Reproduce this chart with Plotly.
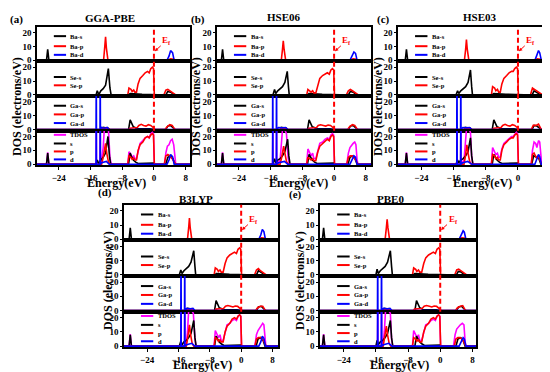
import plotly.graph_objects as go

# ---------------- data ----------------
METHODS = ["GGA-PBE", "HSE06", "HSE03", "B3LYP", "PBE0"]
LETTERS = ["(a)", "(b)", "(c)", "(d)", "(e)"]
ROW_SERIES = [["Ba-s", "Ba-p", "Ba-d"], ["Se-s", "Se-p"],
              ["Ga-s", "Ga-p", "Ga-d"], ["TDOS", "s", "p", "d"]]
X_TICKS = [-24, -16, -8, 0, 8]
Y_TICKS = [0, 10, 20]
X_RANGES = [[-29.5, 9.1], [-29.5, 9.3], [-29.8, 8.7], [-29.9, 9.4], [-29.9, 8.9]]
Y_RANGE = [-0.8, 24.2]

GGA_PBE = {
    "Ba-s": ([-27.1, -26.8, -26.5], [0, 8, 0]),
    "Ba-p": ([-12.7, -12.4, -12.2, -12.0, -11.6, 3.5, 4.2, 5.0, 5.5], [0, 10, 17, 9, 0, 0, 1, 0.8, 0]),
    "Ba-d": ([-2.0, -1.0, 0.0, 0.3, 3.3, 3.8, 4.2, 4.7, 5.1], [0, 0.3, 0.5, 0, 0, 3, 7, 5.5, 0]),
    "Se-s": ([-14.6, -14.3, -13.9, -13.4, -12.8, -12.2, -11.9, -11.5, -11.1, -10.8, -6.5, -6.0, -3.0, 0.0, 0.2, 3.0, 3.5, 4.2, 5.0, 5.3],
             [0, 3, 0.3, 3, 4.5, 7, 12, 19, 5, 0, 0, 1, 0.5, 0.5, 0, 0, 2.5, 2, 0.5, 0]),
    "Se-p": ([-6.6, -6.3, -5.8, -5.5, -5.1, -4.8, -4.4, -4.0, -3.5, -2.8, -2.2, -1.6, -1.2, -0.8, -0.4, -0.1, 0.1, 2.5, 3.0, 3.5, 4.0, 4.6, 5.2, 5.5],
             [0, 5, 4, 2.5, 3.5, 2, 2, 8, 12, 14, 16, 17, 16, 19, 20, 19, 0, 0, 3.5, 4, 3, 2, 0.5, 0]),
    "Ga-s": ([-13.1, -12.8, -11.5, -11.1, -6.4, -6.0, -5.6, -5.2, -4.8, -4.4, -1.0, 0.0, 0.2, 3.0, 3.5, 4.2, 5.0, 5.3],
             [0, 1.5, 1, 0, 0, 7, 4, 2, 1.5, 0.5, 0.5, 0.3, 0, 0, 2.5, 3, 1, 0]),
    "Ga-p": ([-13.1, -12.7, -11.5, -11.1, -6.3, -6.0, -5.0, -4.2, -3.8, -3.2, -2.6, -2.0, -1.4, -0.8, -0.2, 0.3, 2.8, 3.3, 4.0, 4.6, 5.2, 5.5],
             [0, 1, 0.8, 0, 0, 1, 1.5, 1.5, 3, 3.8, 3, 2.5, 3.5, 3, 1.5, 0, 0, 2, 3.5, 3, 0.5, 0]),
    "Ga-d": ([-14.6, -14.57, -14.53, -14.5, -13.6, -13.57, -13.53, -13.5, -13.2, -12.5, -11.8, -11.3, -1.0, 0.0, 0.3],
             [0, 30, 30, 0, 0, 30, 30, 0, 1.5, 1, 1.5, 0, 0, 0.3, 0]),
    "TDOS": ([-27.1, -26.8, -26.5, -14.6, -14.57, -14.53, -14.5, -13.6, -13.57, -13.53, -13.5, -13.2, -12.8, -12.5, -12.1, -11.8, -11.5, -11.1, -10.8,
              -6.6, -6.3, -5.8, -5.5, -5.1, -4.8, -4.4, -4.0, -3.5, -2.8, -2.2, -1.6, -1.2, -0.8, -0.4, -0.1, 0.1,
              2.7, 3.0, 3.4, 3.8, 4.2, 4.6, 5.0, 5.3, 5.5],
             [0, 8.5, 0, 0, 30, 30, 0, 0, 30, 30, 0, 3, 12, 26, 27, 26, 26, 5, 0,
              0, 9, 7, 5, 6, 4, 4, 10, 15, 17, 19, 20, 19, 22, 23, 22, 0,
              0, 8, 13, 14, 17, 18, 14, 3, 0]),
    "s": ([-27.1, -26.8, -26.5, -14.6, -14.3, -13.9, -13.4, -12.8, -12.2, -11.9, -11.6, -11.2, -10.9,
           -6.4, -6.0, -5.6, -5.2, -4.6, -4.0, 0.0, 0.2, 3.0, 3.5, 4.2, 4.8, 5.3],
          [0, 8, 0, 0, 3, 0.3, 3, 5, 8, 14, 20, 5, 0, 0, 8, 5, 3, 1.5, 0.5, 0.8, 0, 0, 5, 6, 4, 0]),
    "p": ([-13.2, -12.8, -12.4, -12.2, -11.9, -11.5, -11.1,
           -6.6, -6.3, -5.8, -5.5, -5.1, -4.8, -4.4, -4.0, -3.5, -2.8, -2.2, -1.6, -1.2, -0.8, -0.4, -0.1, 0.1,
           2.6, 3.0, 3.5, 4.0, 4.6, 5.2, 5.5],
          [0, 5, 12, 15, 8, 2, 0, 0, 6, 5, 3.5, 4.5, 3, 3, 10, 14, 16, 19, 20, 19, 21, 22, 21, 0, 0, 6, 7, 6, 4, 1, 0]),
    "d": ([-14.6, -14.57, -14.53, -14.5, -13.6, -13.57, -13.53, -13.5, -13.2, -12.0, -11.3, 3.3, 3.8, 4.2, 4.7, 5.1],
          [0, 30, 30, 0, 0, 30, 30, 0, 1, 2, 0, 0, 3, 7, 5.5, 0]),
}

HSE06 = {
    "Ba-s": ([-28.4, -28.1, -27.8], [0, 8, 0]),
    "Ba-p": ([-13.3, -13.0, -12.8, -12.6, -12.2, 4.0, 4.8, 5.6, 6.0], [0, 8, 14, 8, 0, 0, 1, 0.8, 0]),
    "Ba-d": ([-2.0, -1.0, 0.0, 0.3, 4.0, 4.5, 5.0, 5.4, 5.8], [0, 0.3, 0.5, 0, 0, 3, 6, 5, 0]),
    "Se-s": ([-15.4, -15.0, -14.7, -14.2, -13.6, -13.0, -12.4, -12.1, -11.8, -11.5, -11.3, -6.8, -6.3, -3.0, 0.0, 0.2, 3.6, 4.1, 4.8, 5.5, 5.8],
             [0, 4, 1, 3, 4.5, 6, 9, 14, 17, 6, 0, 0, 1, 0.5, 0.5, 0, 0, 2.5, 2, 0.5, 0]),
    "Se-p": ([-6.9, -6.6, -6.1, -5.8, -5.4, -5.1, -4.6, -4.1, -3.6, -2.9, -2.3, -1.7, -1.2, -0.8, -0.4, -0.1, 0.1, 3.1, 3.6, 4.1, 4.6, 5.2, 5.8, 6.1],
             [0, 4, 3, 2, 3, 1.5, 1.5, 7, 12, 14, 15, 16, 15, 18, 19, 18, 0, 0, 3, 4, 3, 2, 0.5, 0]),
    "Ga-s": ([-13.6, -13.3, -12.0, -11.6, -6.7, -6.3, -5.9, -5.5, -5.0, -4.6, -1.0, 0.0, 0.2, 3.6, 4.1, 4.8, 5.6, 5.9],
             [0, 1.5, 1, 0, 0, 7, 4, 2, 1.5, 0.5, 0.5, 0.3, 0, 0, 2.5, 3, 1, 0]),
    "Ga-p": ([-13.6, -13.2, -12.0, -11.6, -6.6, -6.3, -5.2, -4.4, -4.0, -3.4, -2.7, -2.1, -1.5, -0.9, -0.3, 0.3, 3.4, 3.9, 4.6, 5.2, 5.8, 6.1],
             [0, 1, 0.8, 0, 0, 1, 1.5, 1.5, 3, 3.5, 3, 2.5, 3.2, 3, 1.5, 0, 0, 2, 3.5, 3, 0.5, 0]),
    "Ga-d": ([-15.5, -15.47, -15.43, -15.4, -14.55, -14.52, -14.48, -14.45, -14.0, -13.0, -12.2, -11.7, -1.0, 0.0, 0.3],
             [0, 30, 30, 0, 0, 30, 30, 0, 1.5, 1.2, 1.5, 0, 0, 0.3, 0]),
    "TDOS": ([-28.4, -28.1, -27.8, -15.5, -15.47, -15.43, -15.4, -14.55, -14.52, -14.48, -14.45, -13.6, -13.3, -13.0, -12.6, -12.3, -12.0, -11.6, -11.3,
              -6.9, -6.6, -6.1, -5.8, -5.4, -5.1, -4.6, -4.1, -3.6, -2.9, -2.3, -1.7, -1.2, -0.8, -0.4, -0.1, 0.1,
              3.2, 3.6, 4.0, 4.4, 4.8, 5.2, 5.5, 5.8, 6.0],
             [0, 8.5, 0, 0, 30, 30, 0, 0, 30, 30, 0, 3, 12, 25, 26, 24, 22, 5, 0,
              0, 11, 8, 6, 8, 4, 4, 10, 15, 16, 18, 19, 18, 21, 22, 21, 0,
              0, 8, 12, 14, 15, 16, 14, 3, 0]),
    "s": ([-28.4, -28.1, -27.8, -15.4, -15.0, -14.7, -14.2, -13.6, -13.0, -12.4, -12.0, -11.7, -11.4, -11.1,
           -6.7, -6.3, -5.9, -5.5, -4.9, -4.3, 0.0, 0.2, 3.5, 4.0, 4.7, 5.3, 5.8],
          [0, 8, 0, 0, 4, 1, 3, 4, 6, 9, 14, 18, 6, 0, 0, 7, 5, 3, 1.5, 0.5, 0.8, 0, 0, 5, 6, 4, 0]),
    "p": ([-13.6, -13.2, -12.9, -12.7, -12.4, -12.0, -11.6,
           -6.9, -6.6, -6.1, -5.8, -5.4, -5.1, -4.6, -4.1, -3.6, -2.9, -2.3, -1.7, -1.2, -0.8, -0.4, -0.1, 0.1,
           3.2, 3.6, 4.1, 4.6, 5.2, 5.8, 6.1],
          [0, 5, 10, 13, 8, 2, 0, 0, 5, 4, 3, 4, 2.5, 2.5, 9, 13, 15, 17, 18, 17, 20, 21, 20, 0, 0, 5, 6, 6, 4, 1, 0]),
    "d": ([-15.5, -15.47, -15.43, -15.4, -14.55, -14.52, -14.48, -14.45, -14.0, -12.5, -11.7, 4.0, 4.5, 5.0, 5.4, 5.8],
          [0, 30, 30, 0, 0, 30, 30, 0, 1, 2, 0, 0, 3, 6, 5, 0]),
}

HSE03 = {
    "Ba-s": ([-28.0, -27.7, -27.4], [0, 8, 0]),
    "Ba-p": ([-13.3, -13.0, -12.8, -12.6, -12.2, 4.0, 4.8, 5.6, 6.0], [0, 8, 15, 8, 0, 0, 1, 0.8, 0]),
    "Ba-d": ([-2.0, -1.0, 0.0, 0.3, 4.2, 4.6, 5.1, 5.4, 5.8], [0, 0.3, 0.5, 0, 0, 3, 7, 5.5, 0]),
    "Se-s": ([-15.4, -15.0, -14.7, -14.2, -13.6, -13.0, -12.4, -12.1, -11.8, -11.5, -11.3, -6.5, -6.0, -3.0, 0.0, 0.2, 3.5, 4.0, 4.7, 5.4, 5.7],
             [0, 3, 1, 3, 4.5, 6, 9, 14, 18, 6, 0, 0, 1, 0.5, 0.5, 0, 0, 3, 2, 0.5, 0]),
    "Se-p": ([-6.6, -6.3, -5.8, -5.5, -5.1, -4.8, -4.4, -4.0, -3.5, -2.8, -2.2, -1.6, -1.2, -0.8, -0.4, -0.1, 0.1, 3.1, 3.6, 4.1, 4.6, 5.2, 5.8, 6.1],
             [0, 6, 5, 3, 4, 2, 2, 8, 12, 14, 16, 17, 17, 19, 20, 19, 0, 0, 5, 4, 3, 2, 0.5, 0]),
    "Ga-s": ([-13.4, -13.1, -11.8, -11.4, -6.4, -6.0, -5.6, -5.2, -4.8, -4.4, -1.0, 0.0, 0.2, 3.5, 4.0, 4.7, 5.5, 5.8],
             [0, 1.5, 1, 0, 0, 7, 4, 2, 1.5, 0.5, 0.5, 0.3, 0, 0, 3, 2.5, 1, 0]),
    "Ga-p": ([-13.4, -13.0, -11.8, -11.4, -6.3, -6.0, -5.0, -4.2, -3.8, -3.2, -2.6, -2.0, -1.4, -0.8, -0.2, 0.3, 3.3, 3.8, 4.5, 5.1, 5.7, 6.0],
             [0, 1, 0.8, 0, 0, 1, 1.5, 1.5, 3, 3.8, 3, 2.5, 3.5, 3, 1.5, 0, 0, 3, 3, 4, 0.5, 0]),
    "Ga-d": ([-15.2, -15.17, -15.13, -15.1, -14.25, -14.22, -14.18, -14.15, -13.7, -12.8, -12.0, -11.5, -1.0, 0.0, 0.3],
             [0, 30, 30, 0, 0, 30, 30, 0, 1.5, 1.2, 1.5, 0, 0, 0.3, 0]),
    "TDOS": ([-28.0, -27.7, -27.4, -15.2, -15.17, -15.13, -15.1, -14.25, -14.22, -14.18, -14.15, -13.4, -13.1, -12.8, -12.4, -12.1, -11.8, -11.5, -11.2,
              -6.6, -6.3, -5.9, -5.5, -5.1, -4.8, -4.4, -4.0, -3.5, -2.8, -2.2, -1.6, -1.2, -0.8, -0.4, -0.1, 0.1,
              3.3, 3.6, 4.0, 4.4, 4.7, 5.1, 5.4, 5.7, 5.9],
             [0, 8.5, 0, 0, 30, 30, 0, 0, 30, 30, 0, 3, 12, 25, 26, 25, 23, 5, 0,
              0, 12, 9, 7, 8, 5, 5, 11, 15, 17, 19, 20, 20, 22, 23, 22, 0,
              0, 10, 16, 15, 12, 17, 16, 3, 0]),
    "s": ([-28.0, -27.7, -27.4, -15.4, -15.0, -14.7, -14.2, -13.6, -13.0, -12.4, -12.1, -11.8, -11.5, -11.2,
           -6.4, -6.0, -5.6, -5.2, -4.6, -4.0, 0.0, 0.2, 3.4, 3.9, 4.6, 5.2, 5.7],
          [0, 8, 0, 0, 3, 1, 3, 4, 6, 9, 14, 19, 6, 0, 0, 7, 5, 3, 1.5, 0.5, 0.8, 0, 0, 6, 5, 4, 0]),
    "p": ([-13.4, -13.1, -12.9, -12.7, -12.4, -12.0, -11.6,
           -6.6, -6.3, -5.8, -5.5, -5.1, -4.8, -4.4, -4.0, -3.5, -2.8, -2.2, -1.6, -1.2, -0.8, -0.4, -0.1, 0.1,
           3.3, 3.6, 4.0, 4.5, 5.0, 5.5, 5.9],
          [0, 5, 10, 14, 8, 2, 0, 0, 7, 6, 4, 5, 3, 3, 10, 14, 16, 18, 19, 19, 21, 22, 21, 0, 0, 7, 8, 5, 6, 2, 0]),
    "d": ([-15.2, -15.17, -15.13, -15.1, -14.25, -14.22, -14.18, -14.15, -13.7, -12.5, -11.5, 4.2, 4.6, 5.1, 5.4, 5.8],
          [0, 30, 30, 0, 0, 30, 30, 0, 1, 2, 0, 0, 3, 7, 5.5, 0]),
}

B3LYP = {
    "Ba-s": ([-28.6, -28.3, -28.0], [0, 8, 0]),
    "Ba-p": ([-13.7, -13.4, -13.2, -13.0, -12.6, 4.4, 5.2, 6.0, 6.4], [0, 8, 15, 8, 0, 0, 1, 0.8, 0]),
    "Ba-d": ([-2.0, -1.0, 0.0, 0.3, 4.5, 5.0, 5.4, 5.8, 6.2], [0, 0.3, 0.5, 0, 0, 3, 7, 5.5, 0]),
    "Se-s": ([-15.8, -15.4, -15.1, -14.6, -14.0, -13.4, -12.8, -12.5, -12.1, -11.8, -11.6, -6.8, -6.3, -3.0, 0.0, 0.2, 3.9, 4.4, 5.1, 5.8, 6.1],
             [0, 3.5, 1, 3, 4.5, 6, 9, 13, 17, 6, 0, 0, 1, 0.5, 0.5, 0, 0, 3, 2, 0.5, 0]),
    "Se-p": ([-6.9, -6.6, -6.1, -5.8, -5.4, -5.1, -4.6, -4.1, -3.6, -2.9, -2.3, -1.7, -1.2, -0.8, -0.4, -0.1, 0.1, 3.4, 3.9, 4.4, 4.9, 5.5, 6.1, 6.4],
             [0, 5, 4, 2.5, 3.5, 2, 2, 8, 12, 14, 15, 16, 15, 18, 19, 18, 0, 0, 3.5, 4.5, 3, 2, 0.5, 0]),
    "Ga-s": ([-14.0, -13.7, -12.4, -12.0, -6.8, -6.4, -6.0, -5.6, -5.1, -4.7, -1.0, 0.0, 0.2, 3.9, 4.4, 5.1, 5.9, 6.2],
             [0, 1.5, 1, 0, 0, 7, 4, 2, 1.5, 0.5, 0.5, 0.3, 0, 0, 2.5, 3, 1, 0]),
    "Ga-p": ([-14.0, -13.6, -12.4, -12.0, -6.7, -6.4, -5.3, -4.5, -4.0, -3.4, -2.7, -2.1, -1.5, -0.9, -0.3, 0.3, 3.7, 4.2, 4.9, 5.5, 6.1, 6.4],
             [0, 1, 0.8, 0, 0, 1, 1.5, 1.5, 3, 3.5, 3, 2.5, 3.2, 3, 1.5, 0, 0, 2, 3, 3, 0.5, 0]),
    "Ga-d": ([-15.4, -15.37, -15.33, -15.3, -14.45, -14.42, -14.38, -14.35, -13.9, -13.0, -12.3, -11.8, -1.0, 0.0, 0.3],
             [0, 30, 30, 0, 0, 30, 30, 0, 1.5, 1.2, 1.5, 0, 0, 0.3, 0]),
    "TDOS": ([-28.6, -28.3, -28.0, -15.4, -15.37, -15.33, -15.3, -14.45, -14.42, -14.38, -14.35, -14.0, -13.7, -13.4, -13.0, -12.6, -12.2, -11.8, -11.5,
              -6.9, -6.6, -6.1, -5.8, -5.4, -5.1, -4.6, -4.1, -3.6, -2.9, -2.3, -1.7, -1.2, -0.8, -0.4, -0.1, 0.1,
              3.5, 3.9, 4.3, 4.7, 5.1, 5.5, 5.8, 6.1, 6.3],
             [0, 8.5, 0, 0, 30, 30, 0, 0, 30, 30, 0, 3, 10, 25, 26, 25, 23, 5, 0,
              0, 11, 8, 6, 8, 4, 4, 10, 15, 16, 18, 19, 18, 21, 22, 21, 0,
              0, 8, 11, 13, 14, 16, 15, 3, 0]),
    "s": ([-28.6, -28.3, -28.0, -15.8, -15.4, -15.1, -14.6, -14.0, -13.4, -12.8, -12.5, -12.1, -11.8, -11.5,
           -6.8, -6.4, -6.0, -5.6, -5.0, -4.4, 0.0, 0.2, 3.8, 4.3, 5.0, 5.6, 6.1],
          [0, 8, 0, 0, 3.5, 1, 3, 4, 6, 9, 13, 18, 6, 0, 0, 7, 5, 3, 1.5, 0.5, 0.8, 0, 0, 5, 6, 4, 0]),
    "p": ([-14.0, -13.7, -13.4, -13.2, -12.9, -12.5, -12.1,
           -6.9, -6.6, -6.1, -5.8, -5.4, -5.1, -4.6, -4.1, -3.6, -2.9, -2.3, -1.7, -1.2, -0.8, -0.4, -0.1, 0.1,
           3.5, 3.9, 4.4, 4.9, 5.5, 6.1, 6.4],
          [0, 5, 10, 15, 8, 2, 0, 0, 6, 5, 3.5, 4.5, 3, 3, 10, 14, 16, 19, 20, 19, 21, 22, 21, 0, 0, 5, 6, 6, 5, 1, 0]),
    "d": ([-15.4, -15.37, -15.33, -15.3, -14.45, -14.42, -14.38, -14.35, -13.9, -12.6, -11.8, 4.5, 5.0, 5.4, 5.8, 6.2],
          [0, 30, 30, 0, 0, 30, 30, 0, 1, 2, 0, 0, 3, 7, 5.5, 0]),
}

PBE0 = {
    "Ba-s": ([-29.3, -29.0, -28.7], [0, 8, 0]),
    "Ba-p": ([-13.7, -13.4, -13.2, -13.0, -12.6, 4.6, 5.4, 6.2, 6.6], [0, 8, 14, 8, 0, 0, 1, 0.8, 0]),
    "Ba-d": ([-2.0, -1.0, 0.0, 0.3, 4.7, 5.2, 5.7, 6.0, 6.4], [0, 0.3, 0.5, 0, 0, 3, 6, 5, 0]),
    "Se-s": ([-16.0, -15.7, -15.4, -14.9, -14.3, -13.7, -13.1, -12.8, -12.4, -12.1, -11.9, -6.8, -6.3, -3.0, 0.0, 0.2, 4.0, 4.5, 5.2, 5.9, 6.2],
             [0, 4, 1, 3, 4.5, 6, 9, 13, 17, 6, 0, 0, 1, 0.5, 0.5, 0, 0, 2.5, 2, 0.5, 0]),
    "Se-p": ([-6.9, -6.6, -6.1, -5.8, -5.4, -5.1, -4.6, -4.1, -3.6, -2.9, -2.3, -1.7, -1.2, -0.8, -0.4, -0.1, 0.1, 3.6, 4.1, 4.6, 5.1, 5.7, 6.3, 6.6],
             [0, 5, 4, 2.5, 3.5, 2, 2, 8, 12, 14, 15, 16, 15, 18, 19, 18, 0, 0, 3.5, 4, 3, 2, 0.5, 0]),
    "Ga-s": ([-14.2, -13.9, -12.6, -12.2, -6.3, -5.9, -5.5, -5.1, -4.7, -4.3, -1.0, 0.0, 0.2, 4.0, 4.6, 5.3, 6.0, 6.3],
             [0, 1.5, 1, 0, 0, 7, 4, 2, 1.5, 0.5, 0.5, 0.3, 0, 0, 2.5, 3, 1, 0]),
    "Ga-p": ([-14.2, -13.8, -12.6, -12.2, -6.7, -6.4, -5.3, -4.5, -4.0, -3.4, -2.7, -2.1, -1.5, -0.9, -0.3, 0.3, 3.8, 4.3, 5.0, 5.6, 6.2, 6.5],
             [0, 1, 0.8, 0, 0, 1, 1.5, 1.5, 3, 3.5, 3, 2.5, 3.2, 3, 1.5, 0, 0, 2, 3, 3.5, 0.5, 0]),
    "Ga-d": ([-15.6, -15.57, -15.53, -15.5, -14.65, -14.62, -14.58, -14.55, -14.1, -13.2, -12.5, -12.0, -1.0, 0.0, 0.3],
             [0, 30, 30, 0, 0, 30, 30, 0, 1.5, 1.2, 1.5, 0, 0, 0.3, 0]),
    "TDOS": ([-29.3, -29.0, -28.7, -15.6, -15.57, -15.53, -15.5, -14.65, -14.62, -14.58, -14.55, -14.2, -13.9, -13.6, -13.2, -12.8, -12.4, -12.1, -11.8,
              -6.9, -6.6, -6.1, -5.8, -5.4, -5.1, -4.6, -4.1, -3.6, -2.9, -2.3, -1.7, -1.2, -0.8, -0.4, -0.1, 0.1,
              3.3, 3.7, 4.1, 4.6, 5.0, 5.5, 5.9, 6.2, 6.4],
             [0, 8.5, 0, 0, 30, 30, 0, 0, 30, 30, 0, 3, 10, 25, 26, 25, 23, 5, 0,
              0, 11, 8, 6, 8, 4, 4, 10, 15, 16, 18, 19, 18, 21, 22, 21, 0,
              0, 8, 12, 14, 15, 16, 15, 3, 0]),
    "s": ([-29.3, -29.0, -28.7, -16.0, -15.7, -15.4, -14.9, -14.3, -13.7, -13.1, -12.8, -12.4, -12.1, -11.8,
           -6.3, -5.9, -5.5, -5.1, -4.5, -3.9, 0.0, 0.2, 3.9, 4.4, 5.1, 5.7, 6.2],
          [0, 8, 0, 0, 4, 1, 3, 4, 6, 9, 13, 18, 6, 0, 0, 7, 5, 3, 1.5, 0.5, 0.8, 0, 0, 5, 6, 4, 0]),
    "p": ([-14.2, -13.9, -13.6, -13.4, -13.1, -12.7, -12.3,
           -6.9, -6.6, -6.1, -5.8, -5.4, -5.1, -4.6, -4.1, -3.6, -2.9, -2.3, -1.7, -1.2, -0.8, -0.4, -0.1, 0.1,
           3.5, 3.9, 4.4, 4.9, 5.5, 6.1, 6.4],
          [0, 5, 10, 14, 8, 2, 0, 0, 6, 5, 3.5, 4.5, 3, 3, 10, 14, 16, 19, 20, 19, 21, 22, 21, 0, 0, 5, 6, 6, 5, 1, 0]),
    "d": ([-15.6, -15.57, -15.53, -15.5, -14.65, -14.62, -14.58, -14.55, -14.1, -12.8, -12.0, 4.7, 5.2, 5.7, 6.0, 6.4],
          [0, 30, 30, 0, 0, 30, 30, 0, 1, 2, 0, 0, 3, 6, 5, 0]),
}

PANEL_DATA = [GGA_PBE, HSE06, HSE03, B3LYP, PBE0]

# ---------------- styling / layout ----------------
COLORS = {"Ba-s": "#000000", "Ba-p": "#ff0000", "Ba-d": "#0000ff",
          "Se-s": "#000000", "Se-p": "#ff0000",
          "Ga-s": "#000000", "Ga-p": "#ff0000", "Ga-d": "#0000ff",
          "TDOS": "#ff00ff", "s": "#000000", "p": "#ff0000", "d": "#0000ff"}
FONT = "Liberation Serif, Times New Roman, serif"
W, H = 550, 372
PANEL_X = [(29, 182), (209, 363), (390, 545), (116, 270), (312, 468)]
ROW1 = [19, 54, 89, 124, 159]
ROW2 = [199, 235, 271, 307, 343]
PANEL_Y = [ROW1, ROW1, ROW1, ROW2, ROW2]
LEGEND_FRAC = [[0.27, 0.56, 0.81], [0.45, 0.69], [0.28, 0.53, 0.78], [0.12, 0.37, 0.6, 0.83]]
TITLE_POS = [(102, 10), (276, 9), (472, 9), (188, 193), (382, 193)]
LETTER_POS = [(8, 12), (190, 12), (375, 12), (97, 187), (287, 189)]
XLABEL_POS = [(108, 177), (290, 177), (474, 177), (194, 361), (391, 361)]
YLABEL_POS = [(9, 100), (188, 100), (370, 100), (100, 276), (292, 276)]


def px(xp):
    return xp / W


def py(yp):
    return 1 - yp / H


fig = go.Figure()
layout = dict(width=W, height=H, margin=dict(l=0, r=0, t=0, b=0),
              paper_bgcolor="white", plot_bgcolor="white", showlegend=False,
              font=dict(family=FONT, color="black"))
shapes = []
annotations = []

for pi, data in enumerate(PANEL_DATA):
    x0p, x1p = PANEL_X[pi]
    ys = PANEL_Y[pi]
    xr = X_RANGES[pi]
    for ri, names in enumerate(ROW_SERIES):
        k = pi * 4 + ri + 1
        xa = "x" if k == 1 else f"x{k}"
        ya = "y" if k == 1 else f"y{k}"
        for name in names:
            xs, yv = data[name]
            fig.add_trace(go.Scatter(
                x=[xr[0] - 1] + list(xs) + [xr[1] + 1],
                y=[0] + list(yv) + [0],
                mode="lines", line=dict(color=COLORS[name], width=1.6),
                xaxis=xa, yaxis=ya, name=name, hoverinfo="skip"))
        bottom = ri == 3
        layout[f"xaxis{k if k > 1 else ''}"] = dict(
            domain=[px(x0p), px(x1p)], anchor=ya, range=xr,
            showline=True, linecolor="black", linewidth=1.5, mirror=True,
            showgrid=False, zeroline=False,
            tickvals=X_TICKS, ticks="outside" if bottom else "", ticklen=3,
            tickwidth=1.2, tickcolor="black",
            showticklabels=bottom,
            tickfont=dict(family=FONT, size=9, weight="bold", color="black"))
        layout[f"yaxis{k if k > 1 else ''}"] = dict(
            domain=[py(ys[ri + 1]), py(ys[ri])], anchor=xa, range=Y_RANGE,
            showline=True, linecolor="black", linewidth=1.5, mirror=True,
            showgrid=False, zeroline=False,
            tickvals=Y_TICKS, ticks="outside", ticklen=2, tickwidth=1.2,
            tickcolor="black",
            tickfont=dict(family=FONT, size=9, weight="bold", color="black"))
        # in-plot legend
        for li, name in enumerate(names):
            yf = 1 - LEGEND_FRAC[ri][li]
            shapes.append(dict(type="line", xref=f"{xa} domain", yref=f"{ya} domain",
                               x0=0.11, x1=0.19, y0=yf, y1=yf,
                               line=dict(color=COLORS[name], width=2)))
            annotations.append(dict(text=name, xref=f"{xa} domain", yref=f"{ya} domain",
                                    x=0.205, y=yf, xanchor="left", yanchor="middle",
                                    showarrow=False,
                                    font=dict(family=FONT, size=6.5, weight="bold", color="black")))
    # Fermi level dashed line over the top three subplots
    k1 = pi * 4 + 1
    xa1 = "x" if k1 == 1 else f"x{k1}"
    ya1 = "y" if k1 == 1 else f"y{k1}"
    shapes.append(dict(type="line", xref=xa1, yref="paper", x0=0, x1=0,
                       y0=py(ys[3]), y1=py(ys[0]),
                       line=dict(color="#ff0000", width=2, dash="5px,3px")))
    annotations.append(dict(text="E<sub>f</sub>", xref=xa1, yref=ya1, x=0.2, y=6.5,
                            ax=12, ay=-11, showarrow=True, arrowhead=2, arrowsize=0.7,
                            arrowwidth=1, arrowcolor="#ff0000",
                            font=dict(family=FONT, size=9, weight="bold", color="#ff0000")))
    # titles and labels
    tx, ty = TITLE_POS[pi]
    annotations.append(dict(text=METHODS[pi], xref="paper", yref="paper", x=px(tx), y=py(ty),
                            xanchor="center", yanchor="middle", showarrow=False,
                            font=dict(family=FONT, size=11, weight="bold", color="black")))
    lx, ly = LETTER_POS[pi]
    annotations.append(dict(text=LETTERS[pi], xref="paper", yref="paper", x=px(lx), y=py(ly),
                            xanchor="center", yanchor="middle", showarrow=False,
                            font=dict(family=FONT, size=11, weight="bold", color="black")))
    ex, ey = XLABEL_POS[pi]
    annotations.append(dict(text="Energy(eV)", xref="paper", yref="paper", x=px(ex), y=py(ey),
                            xanchor="center", yanchor="middle", showarrow=False,
                            font=dict(family=FONT, size=12, weight="bold", color="black")))
    dx, dy = YLABEL_POS[pi]
    annotations.append(dict(text="DOS (electrons/eV)", xref="paper", yref="paper", x=px(dx), y=py(dy),
                            xanchor="center", yanchor="middle", showarrow=False, textangle=-90,
                            font=dict(family=FONT, size=12, weight="bold", color="black")))

layout["shapes"] = shapes
layout["annotations"] = annotations
fig.update_layout(**layout)
fig.write_html("out.html")
